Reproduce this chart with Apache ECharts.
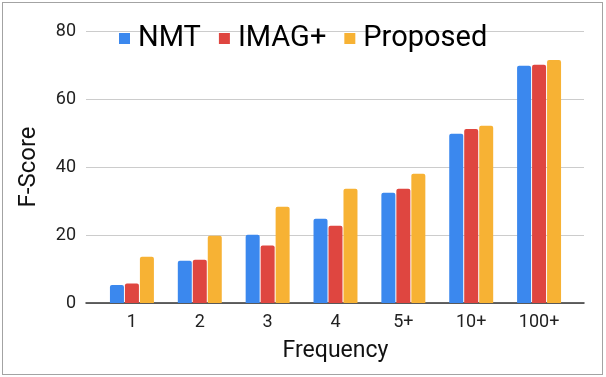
<!DOCTYPE html>
<html>
<head>
<meta charset="utf-8">
<script src="https://cdn.jsdelivr.net/npm/echarts@6/dist/echarts.min.js"></script>
<style>
  html, body { margin: 0; padding: 0; background: #fff; }
  #frame { position: absolute; left: 2px; top: 2px; width: 599px; height: 371px; border: 1.5px solid #a3a3a3; }
  #chart { position: absolute; left: 0; top: 0; width: 606px; height: 377px; }
</style>
</head>
<body>
<div id="frame"></div>
<div id="chart"></div>
<script>
// 数据
const categories = ['1', '2', '3', '4', '5+', '10+', '100+'];
const nmt = [5.3, 12.4, 20.1, 24.8, 32.4, 49.8, 69.8];
const imag = [5.7, 12.7, 16.9, 22.7, 33.6, 51.2, 70.1];
const proposed = [13.6, 19.8, 28.3, 33.6, 38.0, 52.1, 71.5];
const yTicks = [0, 20, 40, 60, 80];

const font = 'Roboto, "Noto Sans", sans-serif';
const chart = echarts.init(document.getElementById('chart'));

chart.setOption({
    animation: false,
    textStyle: { fontFamily: font },
    legend: {
        left: 114,
        top: 19,
        itemWidth: 11,
        itemHeight: 11,
        itemGap: 18,
        icon: 'rect',
        textStyle: { fontSize: 29, color: '#000', fontFamily: font, padding: [0, 0, 0, 3] },
        data: ['NMT', 'IMAG+', 'Proposed']
    },
    grid: [
        // 网格线和y轴
        { left: 86, right: 22, top: 31, bottom: 74 },
        // 柱状图
        { left: 98, right: 33, top: 31, bottom: 74 }
    ],
    xAxis: [
        {
            gridIndex: 0,
            type: 'category',
            data: categories,
            axisLine: { lineStyle: { color: '#333', width: 1.5 } },
            axisTick: { show: false },
            axisLabel: { show: false }
        },
        {
            gridIndex: 1,
            type: 'category',
            data: categories,
            axisLine: { show: false },
            axisTick: { show: false },
            axisLabel: { fontSize: 18, color: '#222', margin: 10, fontFamily: font },
            name: 'Frequency',
            nameLocation: 'middle',
            nameGap: 37,
            nameTextStyle: { fontSize: 23, color: '#111', fontFamily: font }
        }
    ],
    yAxis: [
        {
            gridIndex: 0,
            type: 'value',
            min: yTicks[0],
            max: yTicks[yTicks.length - 1],
            interval: yTicks[1] - yTicks[0],
            axisLine: { show: false },
            axisTick: { show: false },
            axisLabel: { fontSize: 18, color: '#222', margin: 10, fontFamily: font },
            splitLine: { lineStyle: { color: '#cccccc', width: 1 } },
            name: 'F-Score',
            nameLocation: 'middle',
            nameGap: 45,
            nameTextStyle: { fontSize: 24, color: '#111', fontFamily: font }
        },
        {
            gridIndex: 1,
            type: 'value',
            min: yTicks[0],
            max: yTicks[yTicks.length - 1],
            show: false
        }
    ],
    series: [
        {
            name: 'NMT', type: 'bar', xAxisIndex: 1, yAxisIndex: 1,
            data: nmt, barWidth: 14, barGap: '7%',
            itemStyle: { color: '#3b88ee', borderRadius: [2, 2, 0, 0] }
        },
        {
            name: 'IMAG+', type: 'bar', xAxisIndex: 1, yAxisIndex: 1,
            data: imag, barWidth: 14, barGap: '7%',
            itemStyle: { color: '#df4640', borderRadius: [2, 2, 0, 0] }
        },
        {
            name: 'Proposed', type: 'bar', xAxisIndex: 1, yAxisIndex: 1,
            data: proposed, barWidth: 14, barGap: '7%',
            itemStyle: { color: '#f7b234', borderRadius: [2, 2, 0, 0] }
        }
    ]
});
</script>
</body>
</html>
